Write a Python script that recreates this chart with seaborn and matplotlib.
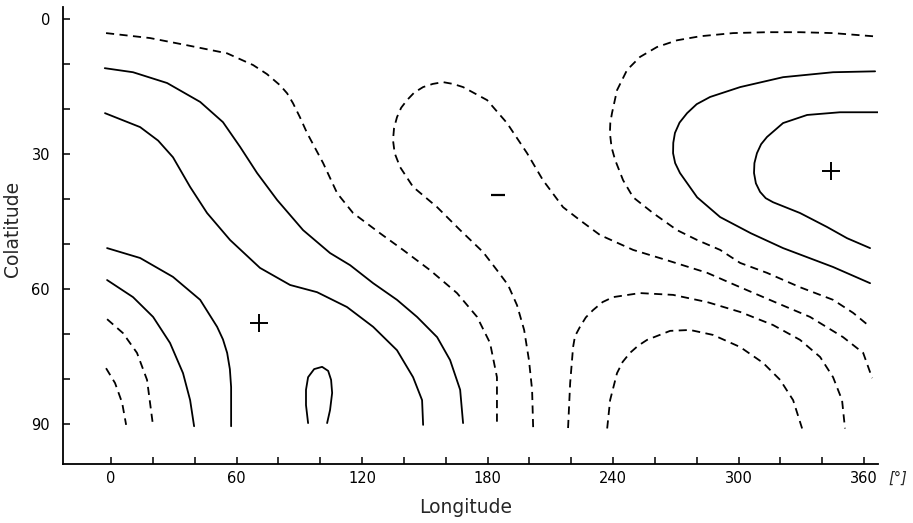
import numpy as np
import pandas as pd
import matplotlib
matplotlib.use("Agg")
import matplotlib.pyplot as plt
import seaborn as sns

# ---- contour traces (longitude [deg], colatitude [deg]) ----
a_lon = [-2.4, 18.6, 36.3, 55.5, 67.9, 74.5, 80.8, 84.2, 87.0, 90.3, 93.7, 101.4, 108.1, 115.7, 128.6, 139.6, 152.5, 165.4, 175.0, 181.2, 184.5, 184.5]
a_colat = [3.1, 4.2, 5.8, 7.6, 10.2, 12.2, 14.7, 16.5, 18.7, 21.8, 25.3, 32.0, 38.7, 43.1, 47.6, 51.3, 55.8, 60.9, 66.2, 72.0, 79.6, 90.2]

b_lon = [201.8, 201.3, 199.8, 197.5, 194.1, 189.8, 184.5, 177.9, 166.9, 155.9, 144.4, 138.2, 135.6, 134.8, 135.3, 136.7, 138.7, 141.5, 145.0, 149.2, 153.8, 158.7, 163.5, 168.3, 179.8, 189.3, 198.9, 206.5, 216.1, 224.2, 233.8, 249.6, 265.8, 285.0, 300.8, 318.4, 334.2, 350.0, 359.6, 363.9]
b_colat = [90.7, 82.4, 75.8, 69.1, 63.6, 59.1, 55.8, 51.8, 46.9, 41.8, 37.3, 32.9, 29.8, 26.9, 24.2, 21.8, 19.7, 18.0, 16.3, 15.1, 14.4, 14.0, 14.4, 15.1, 18.0, 23.1, 29.8, 35.8, 41.8, 44.7, 48.0, 51.3, 53.6, 56.4, 59.6, 63.1, 66.2, 70.7, 74.2, 79.8]

c_lon = [364.3, 345.2, 329.4, 313.6, 297.4, 281.7, 270.6, 261.0, 252.9, 246.7, 241.9, 239.5, 238.7, 238.5, 239.3, 241.0, 244.8, 249.6, 259.1, 270.6, 280.2, 291.2, 300.8, 313.6, 329.4, 345.2, 354.8, 362.9]
c_colat = [3.8, 3.1, 2.9, 2.9, 3.1, 3.8, 4.7, 6.2, 8.4, 11.3, 15.8, 20.9, 23.0, 25.3, 28.5, 31.3, 35.8, 39.6, 43.1, 46.9, 49.1, 51.3, 54.2, 56.4, 59.6, 62.4, 65.3, 68.4]

d_lon = [365.3, 345.2, 321.3, 300.8, 286.4, 280.0, 275.4, 271.8, 269.6, 268.8, 268.7, 269.7, 272.0, 280.2, 291.2, 305.9, 321.3, 345.2, 362.9]
d_colat = [11.6, 11.8, 12.9, 15.1, 17.3, 18.9, 20.9, 23.0, 25.3, 27.5, 29.8, 32.0, 34.2, 39.6, 44.0, 47.6, 50.9, 55.1, 58.7]

e_lon = [366.7, 348.5, 332.8, 321.3, 313.6, 310.8, 308.8, 307.6, 307.4, 308.3, 310.3, 313.0, 316.5, 329.4, 342.3, 351.9, 362.9]
e_colat = [20.7, 20.7, 21.3, 23.1, 26.2, 27.8, 29.8, 32.0, 34.2, 36.5, 38.4, 39.8, 40.7, 43.1, 46.2, 48.7, 50.9]

f_lon = [-3.0, 10.5, 26.8, 42.6, 53.5, 61.7, 69.8, 79.4, 91.8, 104.7, 114.3, 125.3, 136.7, 146.3, 155.9, 162.1, 166.9, 168.3]
f_colat = [10.9, 11.8, 14.2, 18.4, 22.9, 28.4, 34.2, 40.2, 46.9, 52.0, 54.7, 58.7, 62.4, 66.2, 70.7, 75.8, 82.4, 89.8]

g_lon = [-2.9, 13.9, 22.5, 29.6, 37.8, 45.9, 56.9, 71.2, 85.6, 98.5, 112.8, 125.3, 136.7, 144.4, 148.7, 149.2]
g_colat = [20.9, 24.0, 27.0, 30.7, 37.3, 43.1, 49.1, 55.3, 59.1, 60.7, 64.0, 68.4, 73.6, 79.6, 84.7, 90.2]

h_lon = [-1.9, 13.9, 29.6, 42.6, 50.7, 53.5, 55.5, 56.8, 57.4, 57.4]
h_colat = [50.9, 53.1, 57.3, 62.4, 68.4, 71.2, 74.2, 77.8, 81.8, 90.5]

i_lon = [-1.9, 10.5, 20.1, 28.2, 34.4, 37.8, 39.7]
i_colat = [58.0, 61.8, 66.2, 72.0, 78.7, 84.7, 90.5]

j_lon = [-1.9, 5.7, 12.4, 17.2, 20.1]
j_colat = [66.7, 69.8, 74.2, 80.2, 90.5]

k_lon = [-2.4, 1.9, 5.3, 7.2]
k_colat = [77.6, 80.9, 85.3, 90.2]

l_lon = [94.2, 93.2, 93.2, 94.2, 97.1, 100.9, 103.8, 105.2, 105.7, 104.7, 103.3]
l_colat = [89.8, 85.8, 82.4, 79.6, 77.8, 77.3, 78.2, 80.2, 83.1, 86.9, 89.8]

m_lon = [218.5, 219.5, 220.9, 221.8, 224.2, 227.0, 230.4, 235.0, 240.0, 252.9, 268.7, 285.0, 300.8, 316.5, 329.4, 339.0, 345.2, 349.5, 350.9]
m_colat = [90.9, 80.9, 72.9, 70.5, 68.4, 66.3, 64.7, 62.9, 61.8, 60.9, 61.3, 62.9, 65.1, 68.0, 71.3, 75.1, 79.6, 84.7, 91.0]

n_lon = [237.2, 238.6, 241.9, 244.6, 248.1, 252.0, 256.3, 267.3, 276.8, 287.8, 300.8, 311.7, 319.9, 326.1, 330.4]
n_colat = [91.0, 84.7, 78.7, 76.2, 74.2, 72.6, 71.3, 69.3, 69.1, 70.2, 72.9, 76.4, 80.2, 84.7, 91.0]

curve_kind = {"A": "dashed", "B": "dashed", "C": "dashed", "D": "solid", "E": "solid",
              "F": "solid", "G": "solid", "H": "solid", "I": "solid", "J": "dashed",
              "K": "dashed", "L": "solid", "M": "dashed", "N": "dashed"}
curve_data = {"A": (a_lon, a_colat), "B": (b_lon, b_colat), "C": (c_lon, c_colat),
              "D": (d_lon, d_colat), "E": (e_lon, e_colat), "F": (f_lon, f_colat),
              "G": (g_lon, g_colat), "H": (h_lon, h_colat), "I": (i_lon, i_colat),
              "J": (j_lon, j_colat), "K": (k_lon, k_colat), "L": (l_lon, l_colat),
              "M": (m_lon, m_colat), "N": (n_lon, n_colat)}

# extrema markers
plus_lon = [70.8, 344.2]
plus_colat = [67.6, 33.8]
minus_lon = [185.0]
minus_colat = [39.1]

x_tick_labels = [0, 60, 120, 180, 240, 300, 360]
y_tick_labels = [0, 30, 60, 90]

rows = []
for name, (lo, co) in curve_data.items():
    for order, (x, y) in enumerate(zip(lo, co)):
        rows.append({"curve": name, "order": order, "lon": x, "colat": y,
                     "kind": curve_kind[name]})
df = pd.DataFrame(rows)

sns.set_style("ticks")
plt.rcParams["font.family"] = ["DejaVu Sans"]

fig = plt.figure(figsize=(9.13, 5.23), dpi=100)
ax = fig.add_axes([0.0685, 0.1128, 0.8932, 0.8738])

sns.lineplot(data=df, x="lon", y="colat", units="curve", estimator=None, sort=False,
             style="kind", dashes={"solid": "", "dashed": (4.5, 3)},
             color="black", linewidth=1.3, legend=False, ax=ax)
for ln in ax.get_lines():
    ln.set_solid_joinstyle("round")
    ln.set_dash_joinstyle("round")

sns.scatterplot(x=plus_lon, y=plus_colat, marker="+", s=150, color="black",
                linewidth=1.4, ax=ax, legend=False)
sns.scatterplot(x=minus_lon, y=minus_colat, marker="_", s=110, color="black",
                linewidth=1.6, ax=ax, legend=False)

ax.set_xlim(-23.2, 366.7)
ax.set_ylim(98.9, -2.7)

for s in ["top", "right"]:
    ax.spines[s].set_visible(False)
for s in ["left", "bottom"]:
    ax.spines[s].set_linewidth(1.3)
    ax.spines[s].set_color("black")

xt = np.arange(0, 361, 20)
ax.set_xticks(xt)
ax.set_xticklabels([str(v) if v in x_tick_labels else "" for v in xt])
ax.set_xticks([0, 100, 200, 300], minor=True)
yt = np.arange(0, 91, 10)
ax.set_yticks(yt)
ax.set_yticklabels([str(v) if v in y_tick_labels else "" for v in yt])
ax.set_yticks([0, 50], minor=True)

ax.tick_params(axis="both", which="major", direction="in", length=5, width=1.1,
               labelsize=10.5, color="black", labelcolor="black")
ax.tick_params(axis="both", which="minor", direction="in", length=11, width=1.1,
               color="black")
ax.tick_params(axis="x", which="major", pad=5)
ax.tick_params(axis="y", which="major", pad=9)

ax.set_xlabel("")
ax.set_ylabel("")
fig.text(0.510, 0.029, "Longitude", ha="center", va="center", fontsize=13.5)
fig.text(0.0142, 0.563, "Colatitude", ha="center", va="center", fontsize=13.5,
         rotation=90)
fig.text(0.983, 0.085, "[°]", ha="center", va="center", fontsize=10.5,
         style="italic")

fig.savefig("out.png", dpi=100)
